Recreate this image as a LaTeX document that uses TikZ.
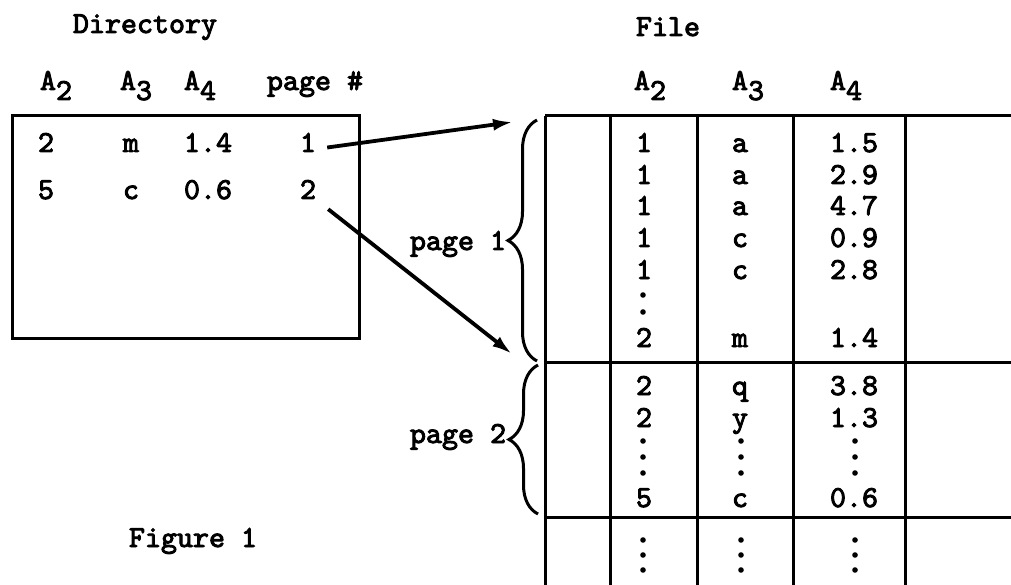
\documentclass[tikz,border=0pt]{standalone}
\usepackage{fontspec}
\newfontfamily\tw{lmmono10-regular}[Extension=.otf,FakeBold=3]
\usetikzlibrary{arrows.meta,decorations.pathreplacing}
\newcommand\sbs[1]{\raisebox{-10pt}{#1}}
\begin{document}
\begin{tikzpicture}[x=1pt,y=-1pt,
  txt/.style={inner sep=0pt,anchor=base,font=\tw\fontsize{30.5}{34}\selectfont},
  rule/.style={line width=3pt},
  arr/.style={line width=3.8pt,-{Latex[length=20pt,width=12pt]}},
  brc/.style={line width=3pt,decorate,decoration={brace,amplitude=29pt}},
  tdot/.style={fill=black}]
\useasboundingbox (0,0) rectangle (1011,585);
\fill[white] (0,0) rectangle (1011,585);
% ---------------- Directory
\node[txt] (dtitle) at (145,33) {Directory};
\node[txt] (dh2) at (56,90) {A\sbs{2}};
\node[txt] (dh3) at (136,90) {A\sbs{3}};
\node[txt] (dh4) at (200,90) {A\sbs{4}};
\node[txt] (dhp) at (315,90) {page \#};
\node[draw,rule,minimum width=347pt,minimum height=222pt,inner sep=0pt] (dbox) at (185.5,227) {};
\node[txt] (d1a) at (46,152) {2};
\node[txt] (d1b) at (131,152) {m};
\node[txt] (d1c) at (208,152) {1.4};
\node[txt] (d1p) at (308,152) {1};
\node[txt] (d2a) at (46,199) {5};
\node[txt] (d2b) at (131,199) {c};
\node[txt] (d2c) at (208,199) {0.6};
\node[txt] (d2p) at (308,199) {2};
\node[txt] (fig) at (193,547) {Figure 1};
% ---------------- File
\node[txt] (ftitle) at (668,36) {File};
\node[txt] (fh2) at (650,90) {A\sbs{2}};
\node[txt] (fh3) at (748,90) {A\sbs{3}};
\node[txt] (fh4) at (846,90) {A\sbs{4}};
% table rules
\draw[rule] (545,116) -- (1011,116);
\draw[rule] (545,362) -- (1011,362);
\draw[rule] (545,517) -- (1011,517);
\foreach \x in {545,610,697,793,905} \draw[rule] (\x,116) -- (\x,586);
% page 1 rows
\foreach \y/\a/\b/\c [count=\i] in {152/1/a/1.5,184/1/a/2.9,215/1/a/4.7,247/1/c/0.9,279/1/c/2.8,347/2/m/1.4}{
  \node[txt] (p1r\i a) at (644,\y) {\a};
  \node[txt] (p1r\i b) at (740,\y) {\b};
  \node[txt] (p1r\i c) at (854,\y) {\c};
}
\foreach \y in {295,312} \fill[tdot] (643,\y) circle (2.8);
% page 2 rows
\foreach \y/\a/\b/\c [count=\i] in {395/2/q/3.8,427/2/y/1.3,507/5/c/0.6}{
  \node[txt] (p2r\i a) at (644,\y) {\a};
  \node[txt] (p2r\i b) at (740,\y) {\b};
  \node[txt] (p2r\i c) at (854,\y) {\c};
}
\foreach \y in {441,457,473,540,555,570}
  \foreach \x in {643,741,855} \fill[tdot] (\x,\y) circle (2.8);
% braces
\draw[brc] (537,361) -- (537,120);
\draw[brc] (538,514) -- (538,365);
\node[txt] (pg1) at (458,250) {page 1};
\node[txt] (pg2) at (458,443) {page 2};
% arrows
\coordinate (t1) at (513,122);
\coordinate (t2) at (512,354);
\draw[arr] ([shift={(11,5)}]d1p.east) -- (t1);
\draw[arr] ([shift={(12,10)}]d2p.south east) -- (t2);
\end{tikzpicture}
\end{document}
